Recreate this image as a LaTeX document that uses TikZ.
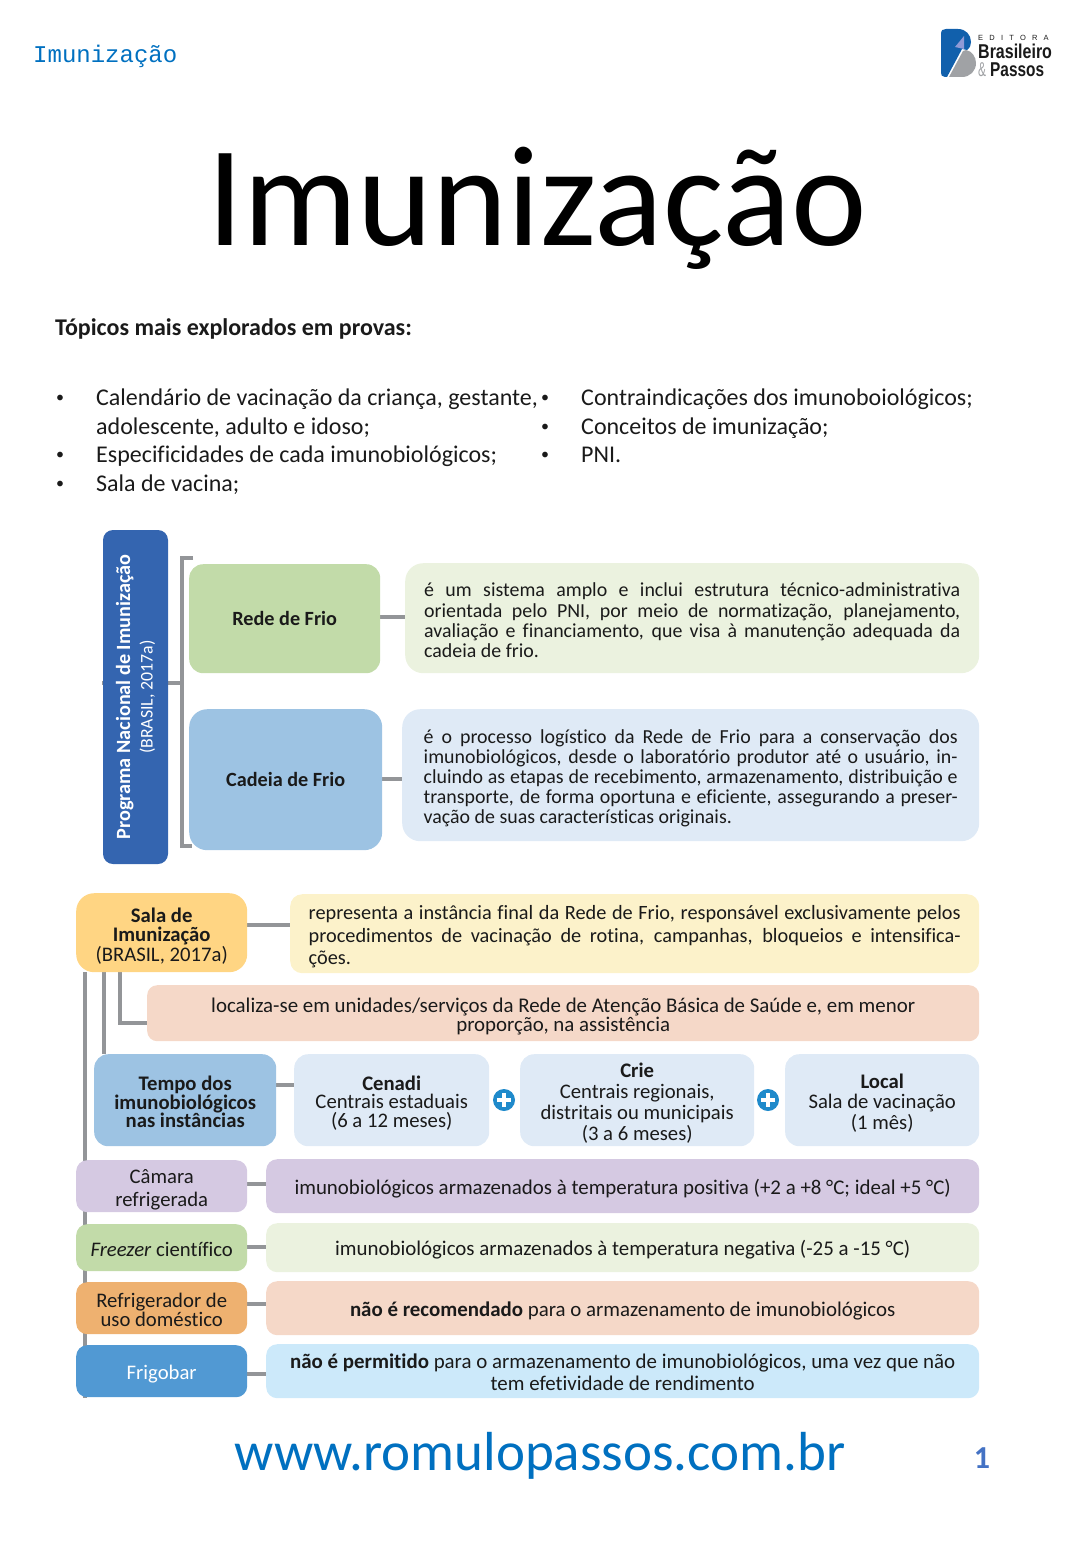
\documentclass[tikz,border=0pt]{standalone}
\usepackage{fontspec}
\setmainfont{Carlito}[Ligatures=NoCommon]
\newfontfamily\headmono{Liberation Mono}
\newfontfamily\logofont{Liberation Sans}
\usetikzlibrary{backgrounds}

\definecolor{inktext}{HTML}{1A1A1A}
\definecolor{linkgray}{HTML}{939598}
\definecolor{pniblue}{HTML}{3465B0}
\definecolor{webblue}{HTML}{0070C0}
\definecolor{pagenum}{HTML}{4472C4}
\definecolor{greenhead}{HTML}{C2DBA9}
\definecolor{greenbody}{HTML}{EBF2DF}
\definecolor{bluehead}{HTML}{9DC3E3}
\definecolor{bluebody}{HTML}{DFEAF6}
\definecolor{yellowhead}{HTML}{FFD583}
\definecolor{yellowbody}{HTML}{FCF2CA}
\definecolor{peachbody}{HTML}{F5D8C8}
\definecolor{lilac}{HTML}{D5C9E2}
\definecolor{orangehead}{HTML}{EEB170}
\definecolor{frigohead}{HTML}{5199D3}
\definecolor{frigobody}{HTML}{CCE9FA}
\definecolor{plusblue}{HTML}{1F8ACB}
\definecolor{logoblue}{HTML}{1160AC}
\definecolor{logogray}{HTML}{A0A2A5}
\definecolor{logopage}{HTML}{8F9AD6}

\newcommand{\drop}[1]{\rule{0pt}{#1pt}}

\begin{document}
\begin{tikzpicture}[
  x=1pt, y=-1pt,
  every node/.style = {inner sep=0pt, text=inktext},
  box/.style = {rounded corners=14pt, anchor=north west, align=center},
  boxhead/.style = {box, font=\fontsize{20.7}{18.5}\selectfont},
  boxtext/.style = {box, font=\fontsize{20.7}{18.5}\selectfont},
  smallbox/.style = {box, rounded corners=11pt, font=\fontsize{20.7}{22}\selectfont},
  longbox/.style = {smallbox, font=\fontsize{20.9}{22}\selectfont},
  parbox/.style = {box, align=justify, font=\fontsize{19.9}{20.2}\selectfont},
  link/.style = {draw=linkgray, line width=3.4pt},
  plain/.style = {anchor=base west, font=\fontsize{24}{28}\selectfont},
  dot/.style = {anchor=base west, font=\fontsize{16}{16}\selectfont},
  plusdot/.style = {circle, fill=plusblue, minimum size=22pt},
  plusbar/.style = {draw=white, line width=3.6pt}
]

% Page frame
\useasboundingbox (0,0) rectangle (1080,1560);

% Header
\node[anchor=base west, text=webblue, font=\headmono\fontsize{24}{24}\selectfont] (runhead) at (33,63) {Imunização};
\node[anchor=base, text=black, font=\fontsize{143}{143}\selectfont] (title) at (537,245) {Imunização};

% Logo
\fill[logoblue] (941,34) .. controls (941,30) and (943,29) .. (946,29) -- (958,29)
  .. controls (966,29) and (971,35) .. (971,42) .. controls (971,45) and (970,48) .. (967,50)
  -- (962,49) -- (947,77) -- (945,77) .. controls (942,77) and (941,75) .. (941,73) -- cycle;
\fill[logopage] (955,47) -- (964,36) -- (964,49) -- cycle;
\fill[logogray] (949,77) -- (963,51) -- (966,50) .. controls (972,51) and (976,57) .. (976,63)
  .. controls (976,71) and (970,77) .. (962,77) -- cycle;
\node[anchor=base west, text=inktext, font=\logofont\fontsize{7.5}{8}\selectfont] (logoA) at (978,41) {E\hspace{6.2pt}D\hspace{6.2pt}I\hspace{6.2pt}T\hspace{6.2pt}O\hspace{6.2pt}R\hspace{6.2pt}A};
\node[anchor=base west, font=\logofont\bfseries\fontsize{20}{20}\selectfont] (logoB) at (978,59) {\scalebox{0.8}[1]{Brasileiro}};
\node[anchor=base west, text=logogray, font=\logofont\fontsize{20}{20}\selectfont] (logoC) at (978,77) {\scalebox{0.6}[1]{\&}};
\node[anchor=base west, font=\logofont\bfseries\fontsize{20}{20}\selectfont] (logoD) at (990,77) {\scalebox{0.77}[1]{Passos}};

% Topics
\node[plain, font=\bfseries\fontsize{24}{28}\selectfont] (topics) at (55,335) {Tópicos mais explorados em provas:};
\foreach \x/\y/\n in {56/402/a, 56/459/b, 56/488/c, 541/402/d, 541/431/e, 541/459/f}
  \node[dot] (dot\n) at (\x,\y) {•};
\foreach \x/\y/\n/\t in {
    96/405/a/{Calendário de vacinação da criança, gestante,},
    96/434/b/{adolescente, adulto e idoso;},
    96/462/c/{Especificidades de cada imunobiológicos;},
    96/491/d/{Sala de vacina;},
    581/405/e/{Contraindicações dos imunoboiológicos;},
    581/434/f/{Conceitos de imunização;},
    581/462/g/{PNI.}}
  \node[plain] (topic\n) at (\x,\y) {\t};

% Programa Nacional block
\node[box, anchor=center, rotate=90, fill=pniblue, text=white, rounded corners=10pt, minimum width=334pt, minimum height=65pt,
  font=\fontsize{20.2}{22.5}\selectfont] (pni) at (135.5,697) {\textbf{Programa Nacional de Imunização}\\\fontsize{17.8}{22.5}\selectfont(BRASIL, 2017a)};
\node[boxhead, fill=greenhead, minimum width=191pt, minimum height=109pt, font=\fontsize{20.2}{18.5}\selectfont] (rede) at (189,564) {\textbf{Rede de Frio}};
\node[parbox, fill=greenbody, rounded corners=18pt, inner xsep=19pt, text width=536pt, minimum height=110pt] (redeDesc) at (405,563)
  {\drop{18}é um sistema amplo e inclui estrutura técnico-administrativa\linebreak orientada pelo PNI, por meio de normatização, planejamento,\linebreak avaliação e financiamento, que visa à manutenção adequada da\linebreak cadeia de frio.};
\node[boxhead, fill=bluehead, rounded corners=18pt, minimum width=193pt, minimum height=141pt, font=\fontsize{20.2}{18.5}\selectfont] (cadeia) at (189,709) {\textbf{Cadeia de Frio}};
\node[parbox, fill=bluebody, rounded corners=18pt, inner xsep=21.5pt, text width=534pt, minimum height=132pt] (cadeiaDesc) at (402,709)
  {\drop{20}é o processo logístico da Rede de Frio para a conservação dos\linebreak imunobiológicos, desde o laboratório produtor até o usuário, in-\linebreak cluindo as etapas de recebimento, armazenamento, distribuição e\linebreak transporte, de forma oportuna e eficiente, assegurando a preser-\linebreak vação de suas características originais.};

% Sala de Imunizacao block
\node[boxhead, fill=yellowhead, rounded corners=18pt, minimum width=171pt, minimum height=79pt] (sala) at (76,893)
  {\drop{21.5}\textbf{Sala de}\\\textbf{Imunização}\\(BRASIL, 2017a)};
\node[parbox, fill=yellowbody, rounded corners=12pt, inner xsep=18.5pt, text width=652pt, minimum height=79pt,
  font=\fontsize{20.3}{22.5}\selectfont] (salaDesc) at (290,894)
  {\drop{20}representa a instância final da Rede de Frio, responsável exclusivamente pelos\linebreak procedimentos de vacinação de rotina, campanhas, bloqueios e intensifica-\linebreak ções.};
\node[boxtext, fill=peachbody, rounded corners=10pt, minimum width=832pt, minimum height=56pt, font=\fontsize{20.9}{19}\selectfont] (local) at (147,985)
  {\drop{20.5}localiza-se em unidades/serviços da Rede de Atenção Básica de Saúde e, em menor\\proporção, na assistência};

% Tempo row
\node[boxhead, fill=bluehead, minimum width=182pt, minimum height=92pt] (tempo) at (94,1054)
  {\drop{18.5}\textbf{Tempo dos}\\\textbf{imunobiológicos}\\\textbf{nas instâncias}};
\node[boxtext, fill=bluebody, minimum width=195pt, minimum height=92pt] (cenadi) at (294,1054)
  {\drop{19.5}\textbf{Cenadi}\\Centrais estaduais\\(6 a 12 meses)};
\node[boxtext, fill=bluebody, minimum width=234pt, minimum height=92pt, font=\fontsize{20.7}{21}\selectfont] (crie) at (520,1054)
  {\drop{20.5}\textbf{Crie}\\Centrais regionais,\\distritais ou municipais\\(3 a 6 meses)};
\node[boxtext, fill=bluebody, minimum width=194pt, minimum height=92pt, font=\fontsize{20.7}{20.5}\selectfont] (localSala) at (785,1054)
  {\drop{19.5}\textbf{Local}\\Sala de vacinação\\(1 mês)};
\node[plusdot] (plusA) at (504,1100) {};
\node[plusdot] (plusB) at (768,1100) {};
\foreach \p in {plusA,plusB} {
  \draw[plusbar] ([xshift=-7pt]\p.center) -- ([xshift=7pt]\p.center);
  \draw[plusbar] ([yshift=-7pt]\p.center) -- ([yshift=7pt]\p.center);
}

% Storage rows
\node[smallbox, fill=lilac, minimum width=171pt, minimum height=52pt, font=\fontsize{20.7}{23}\selectfont] (camara) at (76,1160) {\drop{21.5}Câmara\\refrigerada};
\node[longbox, fill=lilac, minimum width=713pt, minimum height=54pt] (camaraDesc) at (266,1159)
  {\drop{20}imunobiológicos armazenados à temperatura positiva (+2 a +8 °C; ideal +5 °C)};
\node[smallbox, fill=greenhead, minimum width=171pt, minimum height=47pt] (freezer) at (76,1224) {\drop{18}\textit{Freezer} científico};
\node[longbox, fill=greenbody, minimum width=713pt, minimum height=49pt] (freezerDesc) at (266,1223)
  {\drop{20}imunobiológicos armazenados à temperatura negativa (-25 a -15 °C)};
\node[smallbox, fill=orangehead, minimum width=171pt, minimum height=52pt, font=\fontsize{20.7}{18.5}\selectfont] (refrig) at (76,1282) {\drop{17.5}Refrigerador de\\uso doméstico};
\node[longbox, fill=peachbody, minimum width=713pt, minimum height=54pt] (refrigDesc) at (266,1281)
  {\drop{20}\textbf{não é recomendado} para o armazenamento de imunobiológicos};
\node[smallbox, fill=frigohead, text=white, minimum width=171pt, minimum height=52pt] (frigo) at (76,1345) {\drop{20}Frigobar};
\node[longbox, fill=frigobody, minimum width=713pt, minimum height=54pt] (frigoDesc) at (266,1344)
  {\drop{16.5}\textbf{não é permitido} para o armazenamento de imunobiológicos, uma vez que não\\tem efetividade de rendimento};

% Connectors
\coordinate (pniStub) at (102,683);
\coordinate (brTop) at (193,558);
\coordinate (brBot) at (192,846);
\coordinate (trunkEnd) at (85,1398);
\begin{scope}[on background layer]
  \draw[link] (pniStub) -- (182,683);
  \draw[link] (brTop) -- (182,558) -- (182,846) -- (brBot);
  \foreach \a/\b/\h in {rede/redeDesc/617, cadeia/cadeiaDesc/779, sala/salaDesc/925, tempo/cenadi/1085,
      camara/camaraDesc/1184, freezer/freezerDesc/1247, refrig/refrigDesc/1304, frigo/frigoDesc/1374}
    \draw[link] (\a.south east |- 0,\h) -- (\b.south west |- 0,\h);
  \draw[link] (sala.south -| trunkEnd) -- (trunkEnd);
  \draw[link] (sala.south -| 104,0) -- (tempo.north -| 104,0);
  \draw[link] (sala.south -| 120,0) |- (local.west |- 0,1023);
\end{scope}

% Footer
\node[anchor=base, text=webblue, font=\fontsize{55}{55}\selectfont] (site) at (540,1470) {www.romulopassos.com.br};
\node[anchor=base, text=pagenum, font=\bfseries\fontsize{32}{32}\selectfont] (pagenr) at (982,1468) {1};

\end{tikzpicture}
\end{document}
